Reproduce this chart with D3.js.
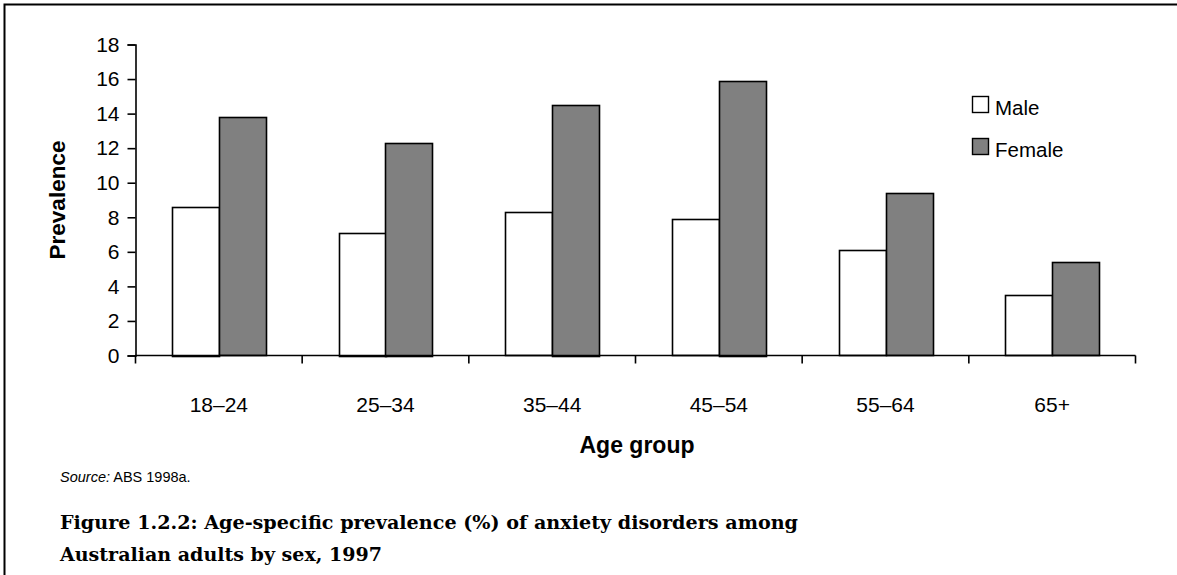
<!DOCTYPE html>
<html><head><meta charset="utf-8">
<script src="https://cdn.jsdelivr.net/npm/d3@7"></script>
<style>body{margin:0;background:#fff}svg{display:block}</style>
</head><body>
<script>
const categories = ["18–24","25–34","35–44","45–54","55–64","65+"];
const male = [8.6, 7.1, 8.3, 7.9, 6.1, 3.5];
const female = [13.8, 12.3, 14.5, 15.9, 9.4, 5.4];
const seriesNames = ["Male","Female"];
const seriesColors = ["#ffffff","#808080"];
const yTicks = [0,2,4,6,8,10,12,14,16,18];

const W = 1177, H = 575;
const svg = d3.select("body").append("svg").attr("width", W).attr("height", H);
svg.append("rect").attr("width", W).attr("height", H).attr("fill", "#fff");
svg.append("path").attr("d", `M4.5,${H} L4.5,4.5 L${W},4.5`).attr("fill","none").attr("stroke","#000").attr("stroke-width",2);

const x0 = 135.5, x1 = 1135.5, yTop = 44.5, yBot = 355.5;
const x = d3.scaleBand().domain(categories).range([x0, x1]).paddingInner(0).paddingOuter(0);
const y = d3.scaleLinear().domain([0, 18]).range([yBot, yTop]);
const xs = d3.scaleBand().domain(seriesNames).range([0, x.bandwidth()]).paddingInner(0).paddingOuter(0.78);

const font = "Liberation Sans, Arial, sans-serif";

const g = svg.append("g");
categories.forEach((c, i) => {
  [male[i], female[i]].forEach((v, j) => {
    g.append("rect")
      .attr("x", Math.round(x(c) + xs(seriesNames[j])) + 0.5)
      .attr("y", Math.round(y(v)) + 0.5)
      .attr("width", Math.round(xs.bandwidth()))
      .attr("height", Math.round(yBot - y(v)))
      .attr("fill", seriesColors[j]).attr("stroke", "#000").attr("stroke-width", 1.6);
  });
});

const ya = svg.append("g").attr("transform", `translate(${x0},0)`)
  .call(d3.axisLeft(y).tickValues(yTicks).tickSize(8).tickPadding(8).tickFormat(d3.format("d")));
ya.select(".domain").attr("stroke-width", 1.6);
ya.selectAll(".tick line").attr("stroke-width", 1.6);
ya.selectAll("text").attr("font-family", font).attr("font-size", 21).attr("fill", "#000");
ya.selectAll("path,line").attr("stroke","#000");

svg.append("line").attr("x1", x0).attr("x2", x1).attr("y1", yBot).attr("y2", yBot).attr("stroke","#000").attr("stroke-width",1.6);
const bounds = categories.map(c => x(c)).concat([x1]);
svg.selectAll(".xt").data(bounds).enter().append("line")
  .attr("x1", d => d).attr("x2", d => d).attr("y1", yBot).attr("y2", yBot + 8)
  .attr("stroke","#000").attr("stroke-width",1.6);
svg.selectAll(".xl").data(categories).enter().append("text")
  .attr("x", d => x(d) + x.bandwidth()/2).attr("y", 412)
  .attr("text-anchor","middle").attr("font-family", font).attr("font-size", 21).text(d => d);

svg.append("text").attr("x", 637).attr("y", 453).attr("text-anchor","middle")
  .attr("font-family", font).attr("font-size", 23).attr("font-weight","bold").text("Age group");
svg.append("text").attr("transform","translate(65,200) rotate(-90)").attr("text-anchor","middle")
  .attr("font-family", font).attr("font-size", 22.5).attr("font-weight","bold").text("Prevalence");

const leg = svg.append("g");
seriesNames.forEach((s, i) => {
  const ly = 96 + i * 42;
  leg.append("rect").attr("x", 972.5).attr("y", ly + 0.5).attr("width", 16).attr("height", 16)
    .attr("fill", seriesColors[i]).attr("stroke","#000").attr("stroke-width",1.4);
  leg.append("text").attr("x", 995).attr("y", ly + 19).attr("font-family", font).attr("font-size", 20.5).text(s);
});

const src = svg.append("text").attr("x", 60).attr("y", 482).attr("font-family", font).attr("font-size", 14.5);
src.append("tspan").attr("font-style","italic").text("Source:");
src.append("tspan").text(" ABS 1998a.");

const capFont = "'DejaVu Serif', serif";
svg.append("text").attr("x", 60).attr("y", 529).attr("font-family", capFont).attr("font-size", 19).attr("font-weight","bold")
  .attr("textLength", 738).attr("lengthAdjust","spacingAndGlyphs")
  .text("Figure 1.2.2: Age-specific prevalence (%) of anxiety disorders among");
svg.append("text").attr("x", 60).attr("y", 561).attr("font-family", capFont).attr("font-size", 19).attr("font-weight","bold")
  .attr("textLength", 322).attr("lengthAdjust","spacingAndGlyphs")
  .text("Australian adults by sex, 1997");
</script>
</body></html>
